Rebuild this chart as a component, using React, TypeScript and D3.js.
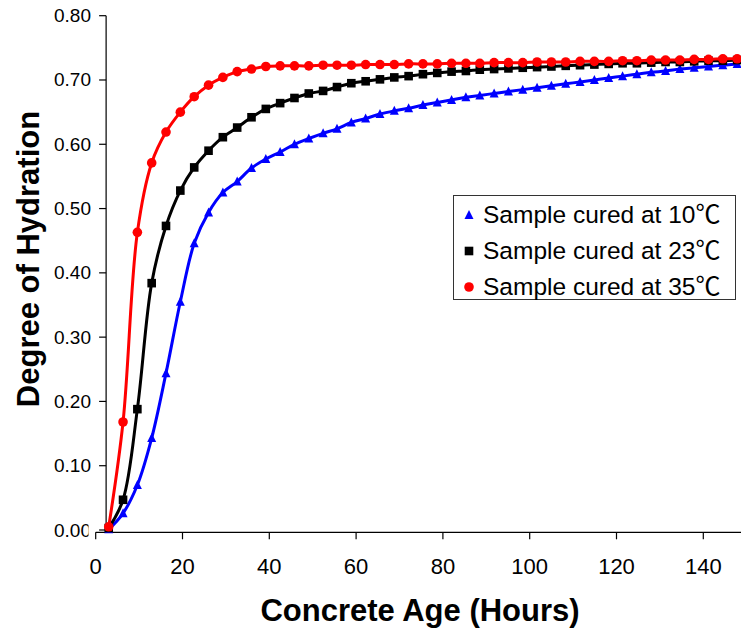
import React from 'react';
import * as d3 from 'd3';

// Concrete age (hours) at each sampled point, shared by all three curing temperatures
const hours = [
  3.0, 6.3, 9.6, 12.9, 16.2, 19.5, 22.7, 26.0, 29.3, 32.6, 35.9, 39.2, 42.5, 45.8, 49.1,
  52.4, 55.6, 58.9, 62.2, 65.5, 68.8, 72.1, 75.4, 78.7, 82.0, 85.3, 88.5, 91.8, 95.1, 98.4,
  101.7, 105.0, 108.3, 111.6, 114.9, 118.2, 121.4, 124.7, 128.0, 131.3, 134.6, 137.9, 141.2, 144.5, 147.8,
];

// Degree of hydration, sample cured at 10 °C
const cured10 = [
  0.001, 0.026, 0.070, 0.143, 0.244, 0.355, 0.446, 0.494, 0.525, 0.542, 0.563, 0.577, 0.588, 0.600, 0.609,
  0.617, 0.624, 0.634, 0.640, 0.647, 0.652, 0.656, 0.661, 0.665, 0.669, 0.673, 0.676, 0.679, 0.682, 0.685,
  0.688, 0.691, 0.694, 0.697, 0.700, 0.703, 0.706, 0.709, 0.712, 0.714, 0.717, 0.719, 0.721, 0.723, 0.725,
];

// Degree of hydration, sample cured at 23 °C
const cured23 = [
  0.003, 0.047, 0.188, 0.384, 0.473, 0.528, 0.564, 0.590, 0.611, 0.626, 0.642, 0.655, 0.664, 0.672, 0.679,
  0.683, 0.689, 0.695, 0.698, 0.701, 0.704, 0.706, 0.709, 0.711, 0.713, 0.714, 0.716, 0.717, 0.718, 0.719,
  0.720, 0.721, 0.722, 0.723, 0.724, 0.725, 0.726, 0.726, 0.727, 0.728, 0.728, 0.729, 0.730, 0.730, 0.731,
];

// Degree of hydration, sample cured at 35 °C
const cured35 = [
  0.005, 0.168, 0.463, 0.571, 0.619, 0.650, 0.674, 0.692, 0.704, 0.713, 0.717, 0.721, 0.722, 0.722, 0.722,
  0.723, 0.723, 0.723, 0.724, 0.724, 0.724, 0.725, 0.725, 0.725, 0.726, 0.726, 0.726, 0.727, 0.727, 0.727,
  0.728, 0.728, 0.728, 0.729, 0.729, 0.729, 0.730, 0.730, 0.731, 0.731, 0.731, 0.732, 0.732, 0.733, 0.733,
];

const seriesLabels = ['Sample cured at 10', 'Sample cured at 23', 'Sample cured at 35'];
const degreeSign = '℃';
const seriesColors = ['#0000ff', '#000000', '#ff0000'];
const seriesMarkers = ['triangle', 'square', 'circle'];

const xTicks = [0, 20, 40, 60, 80, 100, 120, 140];
const yTicks = [0, 0.1, 0.2, 0.3, 0.4, 0.5, 0.6, 0.7, 0.8];

const xTitle = 'Concrete Age (Hours)';
const yTitle = 'Degree of Hydration';

const W = 741;
const H = 633;
const FONT = 'Arial, "Liberation Sans", Helvetica, sans-serif';
const CJK = '"Noto Sans CJK SC", "Noto Sans CJK JP", sans-serif';

function Marker({ kind, cx, cy, color }: { kind: string; cx: number; cy: number; color: string }) {
  if (kind === 'circle') return <circle cx={cx} cy={cy} r={4.8} fill={color} />;
  if (kind === 'square') return <rect x={cx - 4.3} y={cy - 4.3} width={8.6} height={8.6} fill={color} />;
  const h = 8;
  const w = 9;
  return (
    <path
      d={`M${cx},${cy - h / 2 - 1}L${cx + w / 2},${cy + h / 2}L${cx - w / 2},${cy + h / 2}Z`}
      fill={color}
    />
  );
}

export default function App() {
  const x = d3.scaleLinear().domain([0, 150]).range([95.7, 746.7]);
  const y = d3.scaleLinear().domain([0, 0.8]).range([530, 15.7]);

  const xAxisY = y(0) + 2.3;
  const yAxisX = x(2.4);

  const series = [cured10, cured23, cured35];
  const line = d3
    .line<[number, number]>()
    .x((d) => x(d[0]))
    .y((d) => y(d[1]))
    .curve(d3.curveCatmullRom.alpha(0.5));

  const fmtY = d3.format('.2f');

  return (
    <svg
      width={W}
      height={H}
      style={{ position: 'absolute', left: 0, top: 0, background: '#fff' }}
      fontFamily={FONT}
    >
      <defs>
        <clipPath id="zero-label-clip">
          <rect x={0} y={0} width={88.5} height={H} />
        </clipPath>
      </defs>
      <rect width={W} height={H} fill="#fff" />

      {/* Y axis */}
      <line x1={yAxisX} x2={yAxisX} y1={y(0.8)} y2={xAxisY} stroke="#000" strokeWidth={1.2} />
      {yTicks.map((t) => (
        <g key={`yt${t}`}>
          <line x1={yAxisX - 7} x2={yAxisX} y1={y(t)} y2={y(t)} stroke="#000" strokeWidth={1.2} />
          <text
            x={91}
            y={y(t)}
            textAnchor="end"
            dominantBaseline="central"
            fontSize={19}
            fill="#000"
            clipPath={t === 0 ? 'url(#zero-label-clip)' : undefined}
          >
            {fmtY(t)}
          </text>
        </g>
      ))}

      {/* X axis */}
      <line x1={x(0)} x2={W} y1={xAxisY} y2={xAxisY} stroke="#000" strokeWidth={1.2} />
      {xTicks.map((t) => (
        <g key={`xt${t}`}>
          <line x1={x(t)} x2={x(t)} y1={xAxisY} y2={xAxisY + 7} stroke="#000" strokeWidth={1.2} />
          <text x={x(t)} y={574} textAnchor="middle" fontSize={22} fill="#000">
            {t}
          </text>
        </g>
      ))}

      {/* Axis titles */}
      <text x={420} y={621} textAnchor="middle" fontSize={31} fontWeight="bold" fill="#000">
        {xTitle}
      </text>
      <text
        transform={`translate(39,259) rotate(-90)`}
        textAnchor="middle"
        fontSize={31}
        fontWeight="bold"
        fill="#000"
      >
        {yTitle}
      </text>

      {/* Curves with markers */}
      {series.map((vals, si) => {
        const pts: [number, number][] = hours.map((h, i) => [h, vals[i]]);
        return (
          <g key={`s${si}`}>
            <path d={line(pts) ?? ''} fill="none" stroke={seriesColors[si]} strokeWidth={3} />
            {pts.map((p, i) => (
              <Marker key={i} kind={seriesMarkers[si]} cx={x(p[0])} cy={y(p[1])} color={seriesColors[si]} />
            ))}
          </g>
        );
      })}

      {/* Legend */}
      <g>
        <rect x={453.5} y={195.5} width={282} height={104} fill="#fff" stroke="#333" strokeWidth={1} />
        {seriesLabels.map((lab, i) => {
          const cy = 215 + i * 36;
          return (
            <g key={`lg${i}`}>
              <Marker kind={seriesMarkers[i]} cx={469} cy={cy} color={seriesColors[i]} />
              <text x={483} y={cy + 8} fontSize={24.5} fill="#000">
                {lab}
                <tspan fontFamily={CJK} fontSize={25}>
                  {degreeSign}
                </tspan>
              </text>
            </g>
          );
        })}
      </g>
    </svg>
  );
}
